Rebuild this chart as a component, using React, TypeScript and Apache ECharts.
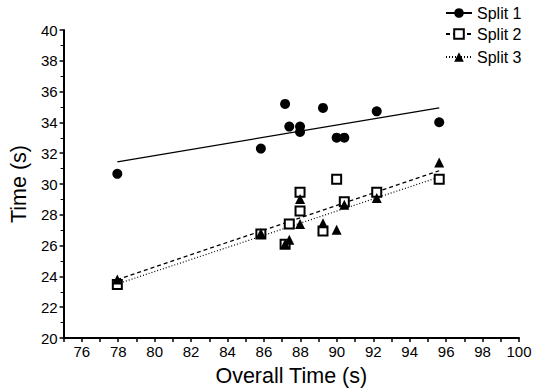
import React, { useEffect, useRef } from "react";
import * as echarts from "echarts";

const overallTime = [77.95, 85.83, 87.16, 87.39, 87.98, 87.98, 89.24, 89.99, 90.41, 92.19, 95.62];
const split1 = [30.66, 32.3, 35.2, 33.73, 33.73, 33.38, 34.94, 33.01, 33.01, 34.72, 34.01];
const split2 = [23.48, 26.75, 26.08, 27.4, 29.47, 28.24, 26.95, 30.31, 28.84, 29.47, 30.31];
const split3 = [23.8, 26.8, 26.1, 26.38, 29.02, 27.4, 27.45, 27.03, 28.65, 29.09, 31.39];

const trendX = [77.95, 95.62];
const trend1 = [31.44, 34.94];
const trend2 = [23.79, 30.86];
const trend3 = [23.51, 30.45];

const seriesNames = ["Split 1", "Split 2", "Split 3"];
const xTicks = { min: 75, max: 100, step: 1 };
const yTicks = { min: 20, max: 40, step: 2 };

const FONT = "'Liberation Sans', Arial, sans-serif";

export default function App() {
  const ref = useRef<HTMLDivElement>(null);
  useEffect(() => {
    if (!ref.current) return;
    const chart = echarts.init(ref.current, null, { renderer: "svg" });
    const pts = (ys: number[]) => overallTime.map((x, i) => [x, ys[i]]);
    const line = (ys: number[]) => trendX.map((x, i) => [x, ys[i]]);
    const legendBase = {
      left: 445,
      padding: 0,
      itemWidth: 26,
      itemHeight: 12,
      textStyle: { fontFamily: FONT, fontSize: 16, color: "#000" },
      selectedMode: false,
    };
    chart.setOption({
      animation: false,
      backgroundColor: "#fff",
      textStyle: { fontFamily: FONT },
      grid: { left: 55, right: 31, top: 30, bottom: 54 },
      legend: [
        { ...legendBase, top: 5, data: [seriesNames[0]] },
        { ...legendBase, top: 26, data: [{ name: seriesNames[1], itemStyle: { color: "#fff", borderColor: "#000", borderWidth: 2 } }] },
        { ...legendBase, top: 49, data: [seriesNames[2]] },
      ],
      xAxis: {
        type: "value",
        min: xTicks.min,
        max: xTicks.max,
        interval: xTicks.step,
        name: "Overall Time (s)",
        nameLocation: "middle",
        nameGap: 27,
        nameTextStyle: { fontFamily: FONT, fontSize: 21.5, color: "#000" },
        axisLine: { onZero: false, lineStyle: { color: "#000", width: 2 } },
        axisTick: { length: 4, lineStyle: { color: "#000", width: 1.5 } },
        axisLabel: {
          fontFamily: FONT,
          fontSize: 15,
          color: "#000",
          margin: 6,
          formatter: (v: number) => (v % 2 === 0 ? String(v) : ""),
        },
        splitLine: { show: false },
      },
      yAxis: {
        type: "value",
        min: yTicks.min,
        max: yTicks.max,
        interval: yTicks.step,
        name: "Time (s)",
        nameLocation: "middle",
        nameGap: 27,
        nameTextStyle: { fontFamily: FONT, fontSize: 21.5, color: "#000" },
        axisLine: { onZero: false, lineStyle: { color: "#000", width: 2 } },
        axisTick: { length: 4, lineStyle: { color: "#000", width: 1.5 } },
        minorTick: { show: true, splitNumber: 2, length: 3, lineStyle: { color: "#000", width: 1 } },
        axisLabel: { fontFamily: FONT, fontSize: 15, color: "#000", margin: 6 },
        splitLine: { show: false },
      },
      series: [
        {
          name: seriesNames[0],
          type: "line",
          data: line(trend1),
          symbol: "circle",
          showSymbol: false,
          itemStyle: { color: "#000" },
          lineStyle: { color: "#000", width: 1.3, type: "solid" },
          z: 1,
        },
        {
          name: seriesNames[1],
          type: "line",
          data: line(trend2),
          symbol: "rect",
          showSymbol: false,
          itemStyle: { color: "#fff", borderColor: "#000", borderWidth: 2 },
          lineStyle: { color: "#000", width: 1.3, type: [4, 3] },
          z: 1,
        },
        {
          name: seriesNames[2],
          type: "line",
          data: line(trend3),
          symbol: "triangle",
          showSymbol: false,
          itemStyle: { color: "#000" },
          lineStyle: { color: "#000", width: 1.2, type: [1, 2] },
          z: 1,
        },
        {
          name: "s1pts",
          type: "scatter",
          data: pts(split1),
          symbol: "circle",
          symbolSize: 10,
          itemStyle: { color: "#000", opacity: 1 },
          z: 2,
        },
        {
          name: "s2pts",
          type: "scatter",
          data: pts(split2),
          symbol: "rect",
          symbolSize: 9,
          itemStyle: { color: "#fff", borderColor: "#000", borderWidth: 2, opacity: 1 },
          z: 3,
        },
        {
          name: "s3pts",
          type: "scatter",
          data: pts(split3),
          symbol: "triangle",
          symbolSize: 10,
          itemStyle: { color: "#000", opacity: 1 },
          z: 4,
        },
      ],
    });
    return () => chart.dispose();
  }, []);
  return <div ref={ref} style={{ width: 550, height: 392, position: "absolute", left: 0, top: 0 }} />;
}
